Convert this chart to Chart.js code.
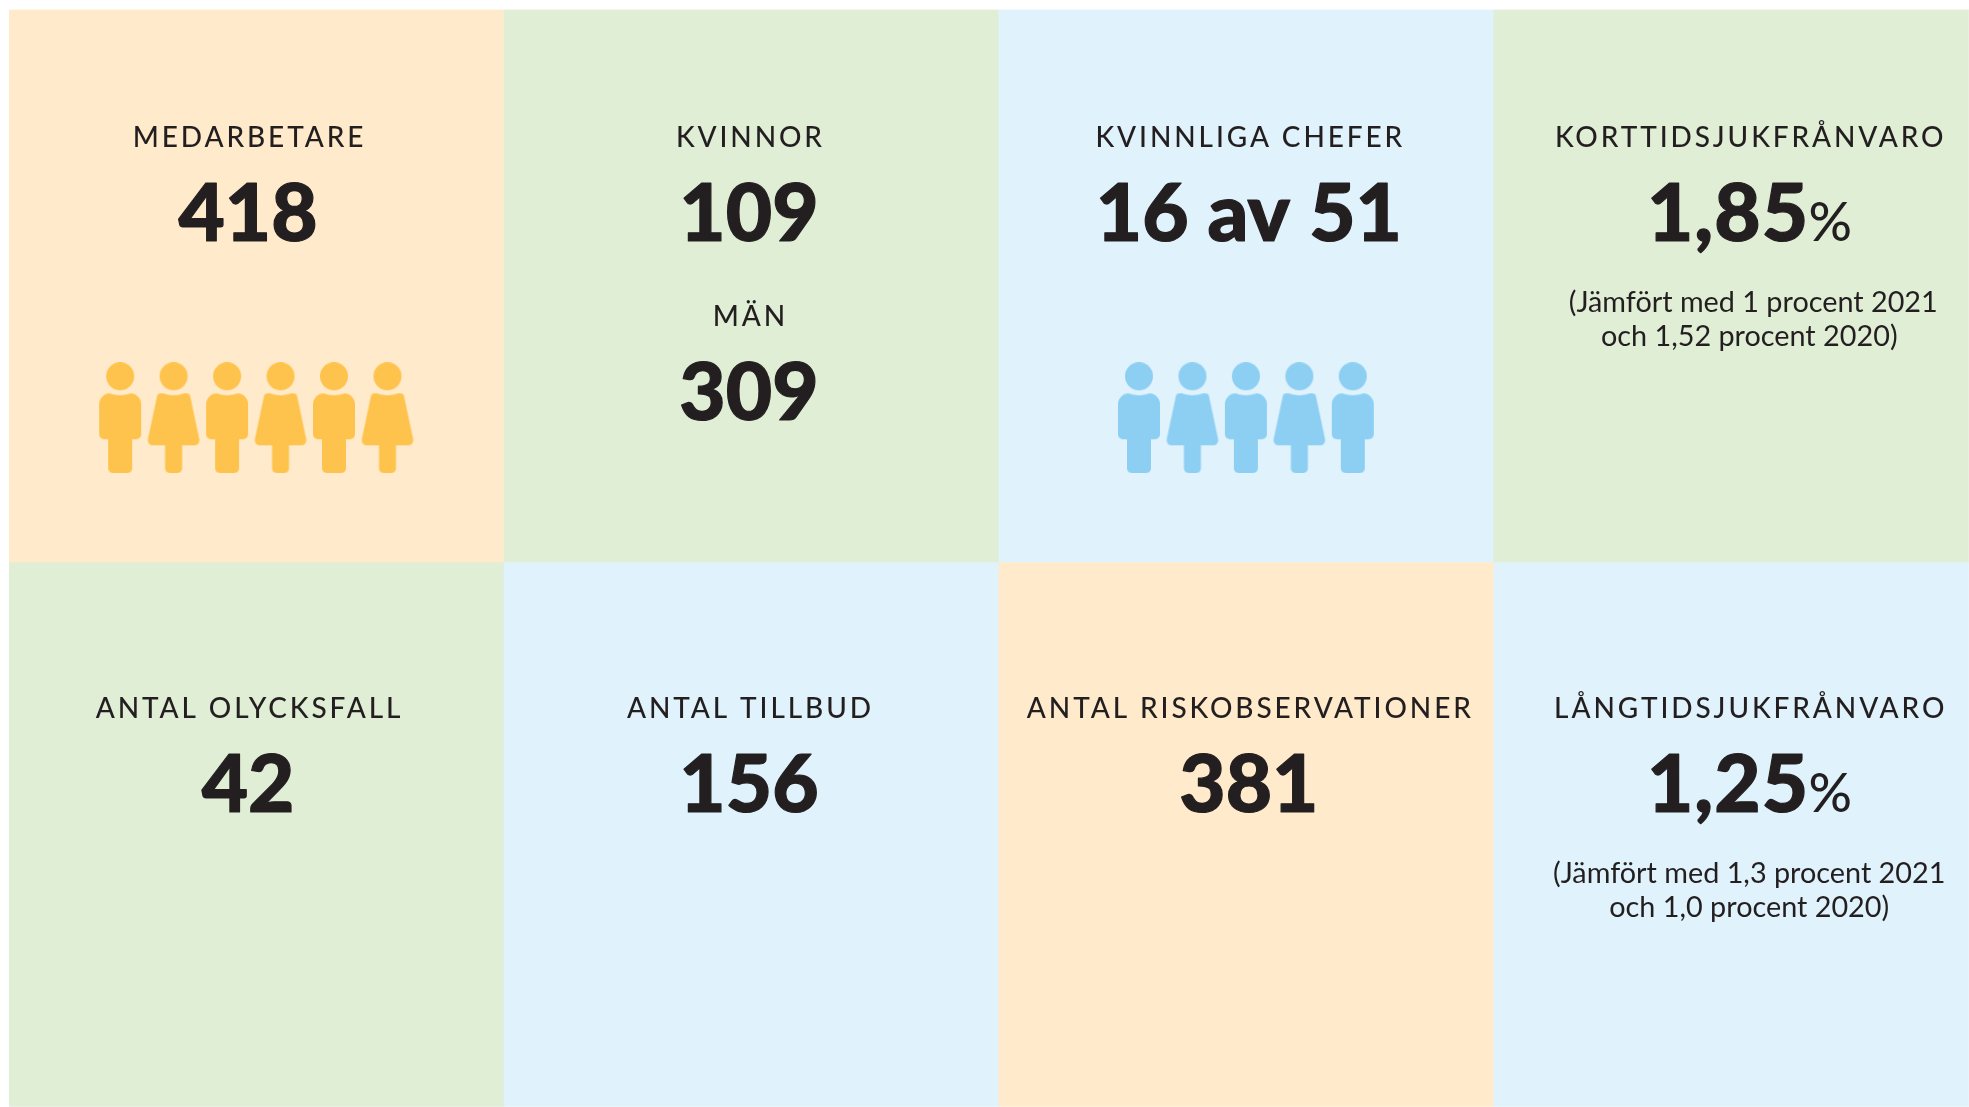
<!DOCTYPE html>
<html lang="sv">
<head>
<meta charset="utf-8">
<title>Medarbetare</title>
<script src="https://cdn.jsdelivr.net/npm/chart.js@4"></script>
<style>
  html, body { margin: 0; padding: 0; background: #ffffff; }
  canvas { display: block; }
</style>
</head>
<body>
<canvas id="chart" width="1969" height="1107"></canvas>
<script>
// Data, left to right
const columns = [0, 1, 2, 3];
const topLabels = ['MEDARBETARE', 'KVINNOR', 'KVINNLIGA CHEFER', 'KORTTIDSJUKFRÅNVARO'];
const topValues = ['418', '109', '16 av 51', '1,85'];
const bottomLabels = ['ANTAL OLYCKSFALL', 'ANTAL TILLBUD', 'ANTAL RISKOBSERVATIONER', 'LÅNGTIDSJUKFRÅNVARO'];
const bottomValues = ['42', '156', '381', '1,25'];
const secondLabel = 'MÄN';
const secondValue = '309';
const topNote = ['(Jämfört med 1 procent 2021', 'och 1,52 procent 2020)'];
const bottomNote = ['(Jämfört med 1,3 procent 2021', 'och 1,0 procent 2020)'];
const yellowPeople = ['man', 'woman', 'man', 'woman', 'man', 'woman'];
const bluePeople = ['man', 'woman', 'man', 'woman', 'man'];

// Colours
const ORANGE = '#ffebcb';
const GREEN = '#e1eed6';
const BLUE = '#e0f2fb';
const YELLOW_ICON = '#fec34d';
const BLUE_ICON = '#8dcff3';
const INK = '#231f20';
const FONT = 'Lato, "Open Sans", sans-serif';

// Layout, in axis units (one unit is one cell)
const ROW_SPLIT = 1;
const Y_MAX = 1.986;
const X_MIN = -0.5;
const X_MAX = 3.4596;
const TEXT_X = [-0.017, 0.995, 2.005, 3.016];
const ICON_Y = 0.739;
const ICON_STEP = 0.108;
const YELLOW_START = -0.2754;
const BLUE_START = 1.783;

function roundedPoly(ctx, pts) {
    // pts: [x, y, radius]
    const n = pts.length;
    ctx.moveTo((pts[n - 1][0] + pts[0][0]) / 2, (pts[n - 1][1] + pts[0][1]) / 2);
    for (let i = 0; i < n; i++) {
        const next = pts[(i + 1) % n];
        ctx.arcTo(pts[i][0], pts[i][1], next[0], next[1], pts[i][2]);
    }
    ctx.closePath();
}

// Pictogram used as the point style
function person(kind, color) {
    const c = document.createElement('canvas');
    c.width = 60;
    c.height = 111;
    const ctx = c.getContext('2d');
    const m = 30;
    ctx.fillStyle = color;
    ctx.beginPath();
    if (kind === 'man') {
        roundedPoly(ctx, [[m - 21, 31, 11], [m + 21, 31, 11], [m + 21, 77, 5], [m + 12, 77, 0],
            [m + 12, 111, 5], [m - 12, 111, 5], [m - 12, 77, 0], [m - 21, 77, 5]]);
    } else {
        roundedPoly(ctx, [[m - 16, 31, 4], [m + 16, 31, 4], [m + 27, 83, 5], [m + 8.5, 83, 0],
            [m + 8.5, 111, 5], [m - 8.5, 111, 5], [m - 8.5, 83, 0], [m - 27, 83, 5]]);
    }
    ctx.fill();
    // small dip below the head
    ctx.globalCompositeOperation = 'destination-out';
    ctx.beginPath();
    ctx.ellipse(m, 28, 13, 5, 0, 0, Math.PI * 2);
    ctx.fill();
    ctx.globalCompositeOperation = 'source-over';
    ctx.beginPath();
    ctx.arc(m, 14, 14, 0, Math.PI * 2);
    ctx.fill();
    return c;
}

function peopleDataset(list, start, color) {
    return {
        type: 'scatter',
        data: list.map((kind, i) => ({ x: start + i * ICON_STEP, y: ICON_Y })),
        pointStyle: list.map(kind => person(kind, color)),
        // image point styles ignore the radius; anything larger would only inset the chart area
        pointRadius: 0.2,
        pointHoverRadius: 0,
        pointBorderWidth: 0,
        borderWidth: 0,
        order: 0
    };
}

function textAt(ctx, text, x, y, font, spacing, heavy) {
    ctx.font = font;
    ctx.letterSpacing = spacing + 'px';
    // trailing letter spacing would push the text off centre
    ctx.fillText(text, x + spacing / 2, y);
    if (heavy) {
        ctx.lineWidth = heavy;
        ctx.strokeText(text, x + spacing / 2, y);
    }
}

const textPlugin = {
    id: 'cellText',
    afterDatasetsDraw(chart) {
        const ctx = chart.ctx;
        const xs = chart.scales.x;
        ctx.save();
        ctx.fillStyle = INK;
        ctx.strokeStyle = INK;
        ctx.lineJoin = 'round';
        ctx.textAlign = 'center';
        ctx.textBaseline = 'alphabetic';

        const labelFont = '500 28px ' + FONT;
        const labelSpacing = 2.9;
        const valueFont = '900 80px ' + FONT;
        const valueHeavy = 1.2;
        const noteFont = '400 28.8px ' + FONT;
        const percentFont = '500 54px ' + FONT;

        const drawRow = (labels, values, dy) => {
            labels.forEach((label, i) => {
                const x = xs.getPixelForValue(TEXT_X[i]);
                textAt(ctx, label, x, 147 + dy, labelFont, labelSpacing);
                if (i < 3) {
                    textAt(ctx, values[i], x, 241 + dy, valueFont, 0, valueHeavy);
                }
            });
        };
        drawRow(topLabels, topValues, 0);
        drawRow(bottomLabels, bottomValues, 571);

        // second pair in the KVINNOR cell
        const x2 = xs.getPixelForValue(TEXT_X[1]);
        textAt(ctx, secondLabel, x2, 326, labelFont, labelSpacing);
        textAt(ctx, secondValue, x2, 420, valueFont, 0, valueHeavy);

        // percentage cells: big number, small sign, and two note lines
        const x4 = xs.getPixelForValue(TEXT_X[3]);
        [[topValues[3], topNote, 0, 4], [bottomValues[3], bottomNote, 571, 0]].forEach(([value, note, dy, firstShift]) => {
            ctx.letterSpacing = '1px';
            ctx.font = valueFont;
            const w1 = ctx.measureText(value).width;
            ctx.letterSpacing = '0px';
            ctx.font = percentFont;
            const w2 = ctx.measureText('%').width;
            const left = x4 - (w1 + w2) / 2;
            ctx.textAlign = 'left';
            textAt(ctx, value, left, 241 + dy, valueFont, 1, valueHeavy);
            textAt(ctx, '%', left + w1, 241 + dy, percentFont, 0);
            ctx.textAlign = 'center';
            textAt(ctx, note[0], x4 + firstShift, 311.5 + dy, noteFont, 0);
            textAt(ctx, note[1], x4, 345.5 + dy, noteFont, 0);
        });
        ctx.restore();
    }
};

new Chart(document.getElementById('chart').getContext('2d'), {
    type: 'bar',
    data: {
        datasets: [
            {
                data: columns.map(c => ({ x: c, y: [0, ROW_SPLIT] })),
                backgroundColor: [ORANGE, GREEN, BLUE, GREEN],
                grouped: false,
                barPercentage: 1,
                categoryPercentage: 1,
                order: 1
            },
            {
                data: columns.map(c => ({ x: c, y: [ROW_SPLIT, Y_MAX] })),
                backgroundColor: [GREEN, BLUE, ORANGE, BLUE],
                grouped: false,
                barPercentage: 1,
                categoryPercentage: 1,
                order: 1
            },
            peopleDataset(yellowPeople, YELLOW_START, YELLOW_ICON),
            peopleDataset(bluePeople, BLUE_START, BLUE_ICON)
        ]
    },
    options: {
        responsive: false,
        animation: false,
        layout: { padding: { left: 9, top: 9.5, right: 0, bottom: 0 } },
        plugins: { legend: { display: false }, tooltip: { enabled: false } },
        scales: {
            // the bar width follows the tick gap, so the ticks must stay one cell apart
            x: { type: 'linear', min: X_MIN, max: X_MAX, offset: false, display: false,
                 ticks: { stepSize: 1, includeBounds: false } },
            y: { min: 0, max: Y_MAX, reverse: true, display: false }
        }
    },
    plugins: [textPlugin]
});
</script>
</body>
</html>
